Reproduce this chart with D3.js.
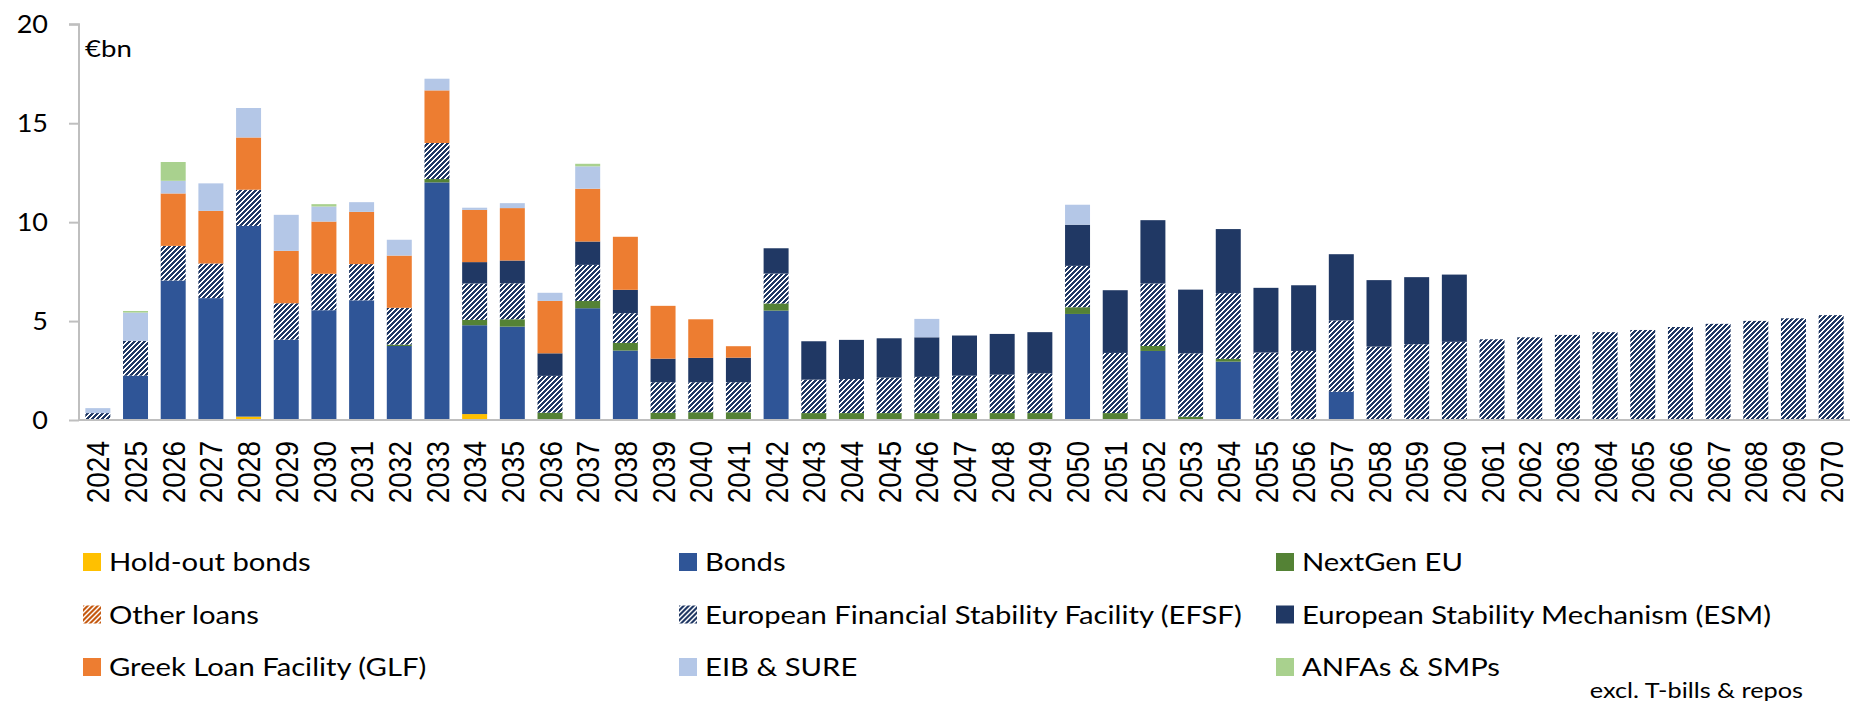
<!DOCTYPE html>
<html>
<head>
<meta charset="utf-8">
<script src="https://cdn.jsdelivr.net/npm/d3@7"></script>
<style>
  body { margin: 0; background: #fff; }
  svg text { fill: #000; }
</style>
</head>
<body>
<div class="chart"></div>
<script>
// categories (years)
const years = ['2024', '2025', '2026', '2027', '2028', '2029', '2030', '2031', '2032', '2033',
  '2034', '2035', '2036', '2037', '2038', '2039', '2040', '2041', '2042', '2043',
  '2044', '2045', '2046', '2047', '2048', '2049', '2050', '2051', '2052', '2053',
  '2054', '2055', '2056', '2057', '2058', '2059', '2060', '2061', '2062', '2063',
  '2064', '2065', '2066', '2067', '2068', '2069', '2070'];

const yTicks = [0, 5, 10, 15, 20];

// series values, €bn, one per year
const holdout = [0, 0, 0, 0, 0.17, 0, 0, 0, 0, 0,
  0.30, 0, 0, 0, 0, 0, 0, 0, 0, 0,
  0, 0, 0, 0, 0, 0, 0, 0, 0, 0,
  0, 0, 0, 0, 0, 0, 0, 0, 0, 0,
  0, 0, 0, 0, 0, 0, 0];
const bonds = [0, 2.24, 7.05, 6.16, 9.64, 4.06, 5.55, 6.05, 3.74, 12.01,
  4.49, 4.72, 0, 5.65, 3.51, 0, 0, 0, 5.53, 0,
  0, 0, 0, 0, 0, 0, 5.36, 0, 3.49, 0,
  2.95, 0, 0, 1.43, 0, 0, 0, 0, 0, 0,
  0, 0, 0, 0, 0, 0, 0];
const nextGen = [0, 0, 0, 0, 0, 0, 0, 0, 0.07, 0.17,
  0.27, 0.37, 0.37, 0.37, 0.39, 0.37, 0.39, 0.39, 0.36, 0.35,
  0.35, 0.35, 0.35, 0.35, 0.35, 0.35, 0.34, 0.35, 0.25, 0.17,
  0.14, 0, 0, 0, 0, 0, 0, 0, 0, 0,
  0, 0, 0, 0, 0, 0, 0];
const otherLoans = [0, 0, 0, 0, 0, 0, 0, 0, 0, 0,
  0, 0, 0, 0, 0, 0, 0, 0, 0, 0,
  0, 0, 0, 0, 0, 0, 0, 0, 0, 0,
  0, 0, 0, 0, 0, 0, 0, 0, 0, 0,
  0, 0, 0, 0, 0, 0, 0];
const efsf = [0.35, 1.76, 1.75, 1.75, 1.83, 1.84, 1.84, 1.83, 1.86, 1.82,
  1.84, 1.82, 1.86, 1.82, 1.50, 1.54, 1.52, 1.52, 1.51, 1.69,
  1.72, 1.79, 1.83, 1.89, 1.94, 2.01, 2.09, 3.04, 3.16, 3.20,
  3.32, 3.41, 3.49, 3.60, 3.71, 3.83, 3.95, 4.08, 4.18, 4.30,
  4.44, 4.55, 4.70, 4.86, 5.01, 5.14, 5.30];
const esm = [0, 0, 0, 0, 0, 0, 0, 0, 0, 0,
  1.08, 1.15, 1.14, 1.18, 1.18, 1.19, 1.23, 1.24, 1.28, 1.94,
  1.98, 1.99, 2.00, 2.03, 2.06, 2.08, 2.08, 3.17, 3.20, 3.22,
  3.24, 3.27, 3.32, 3.35, 3.36, 3.39, 3.40, 0, 0, 0,
  0, 0, 0, 0, 0, 0, 0];
const glf = [0, 0, 2.65, 2.66, 2.64, 2.65, 2.64, 2.64, 2.64, 2.66,
  2.64, 2.65, 2.65, 2.67, 2.68, 2.67, 1.95, 0.58, 0, 0,
  0, 0, 0, 0, 0, 0, 0, 0, 0, 0,
  0, 0, 0, 0, 0, 0, 0, 0, 0, 0,
  0, 0, 0, 0, 0, 0, 0];
const eibSure = [0.25, 1.43, 0.64, 1.39, 1.49, 1.82, 0.76, 0.49, 0.80, 0.59,
  0.11, 0.25, 0.41, 1.13, 0, 0, 0, 0, 0, 0,
  0, 0, 0.93, 0, 0, 0, 1.01, 0, 0, 0,
  0, 0, 0, 0, 0, 0, 0, 0, 0, 0,
  0, 0, 0, 0, 0, 0, 0];
const anfas = [0, 0.08, 0.95, 0, 0, 0, 0.12, 0, 0, 0,
  0, 0, 0, 0.13, 0, 0, 0, 0, 0, 0,
  0, 0, 0, 0, 0, 0, 0, 0, 0, 0,
  0, 0, 0, 0, 0, 0, 0, 0, 0, 0,
  0, 0, 0, 0, 0, 0, 0];

// stack order = legend order
const seriesNames = ['Hold-out bonds', 'Bonds', 'NextGen EU',
  'Other loans', 'European Financial Stability Facility (EFSF)', 'European Stability Mechanism (ESM)',
  'Greek Loan Facility (GLF)', 'EIB & SURE', 'ANFAs & SMPs'];
const seriesValues = [holdout, bonds, nextGen, otherLoans, efsf, esm, glf, eibSure, anfas];
const seriesFill = ['#FFC000', '#2F5597', '#548235', 'url(#hatchOrange)', 'url(#hatchNavy)',
  '#203864', '#ED7D31', '#B4C7E7', '#A9D18E'];

const width = 1860;
const height = 701;
const margin = { top: 24.3, right: 10, bottom: 281, left: 79 };
const txtFont = 'Lato, sans-serif';

const rows = years.map((yr, i) => {
  const row = { year: yr };
  seriesNames.forEach((name, j) => { row[name] = seriesValues[j][i]; });
  return row;
});

const svg = d3.select('.chart').append('svg')
    .attr('width', width)
    .attr('height', height);

// hatch patterns (upward diagonal, pixel stepped like the office fill)
const defs = svg.append('defs');
function hatch(id, colour) {
  const s = 5;
  const p = defs.append('pattern')
      .attr('id', id)
      .attr('patternUnits', 'userSpaceOnUse')
      .attr('width', s)
      .attr('height', s);
  p.append('rect').attr('width', s).attr('height', s).attr('fill', '#fff');
  for (let r = 0; r < s; r++) {
    for (let k = 0; k < 3; k++) {
      p.append('rect')
          .attr('x', (s - 1 - r + k) % s)
          .attr('y', r)
          .attr('width', 1)
          .attr('height', 1)
          .attr('fill', colour)
          .attr('shape-rendering', 'crispEdges');
    }
  }
}
hatch('hatchNavy', '#203864');
hatch('hatchOrange', '#C55A11');

const x = d3.scaleBand()
    .domain(years)
    .range([margin.left, 1850])
    .paddingInner(0.337)
    .paddingOuter(0.1685);

const y = d3.scaleLinear()
    .domain([0, 20])
    .range([420, margin.top]);

const stacked = d3.stack().keys(seriesNames)(rows);

svg.append('g')
  .selectAll('g')
  .data(stacked)
  .enter().append('g')
    .attr('fill', (d, i) => seriesFill[i])
  .selectAll('rect')
  .data(d => d.filter(s => s[1] - s[0] > 0))
  .enter().append('rect')
    .attr('x', d => x(d.data.year))
    .attr('width', x.bandwidth())
    .attr('y', d => y(d[1]))
    .attr('height', d => y(d[0]) - y(d[1]));

// y axis
const yAxis = svg.append('g')
    .attr('transform', `translate(${margin.left}, 0)`)
    .call(d3.axisLeft(y).tickValues(yTicks).tickSize(10).tickPadding(0));
yAxis.select('.domain').attr('stroke', '#bfbfbf').attr('stroke-width', 2)
    .attr('d', `M-10,${y(20)}H0V${y(0)}`);
yAxis.selectAll('.tick line').attr('stroke', '#bfbfbf').attr('stroke-width', 2);
yAxis.selectAll('.tick text')
    .style('font-family', txtFont)
    .style('font-size', '25px')
    .attr('fill', '#000')
    .attr('x', 0)
    .attr('transform', 'translate(-31, 0) scale(1.08, 1)');

// x axis (baseline only) with rotated year labels
const xAxis = svg.append('g')
    .attr('transform', `translate(0, ${y(0)})`)
    .call(d3.axisBottom(x).tickSize(0).tickPadding(0));
xAxis.select('.domain').attr('stroke', '#bfbfbf').attr('stroke-width', 2)
    .attr('d', `M${margin.left},0H1850`);
xAxis.selectAll('.tick text')
    .style('font-family', '"Liberation Sans", Arial, sans-serif')
    .style('font-size', '28px')
    .attr('fill', '#000')
    .attr('text-anchor', 'end')
    .attr('y', 0)
    .attr('dy', '0.36em')
    .attr('transform', 'translate(0, 21) rotate(-90) scale(1, 1.15)');

// unit label
svg.append('text')
    .attr('transform', 'translate(85, 56.5) scale(1.15, 1)')
    .style('font-family', txtFont)
    .style('font-size', '24px')
    .text('€bn');

// legend, 3 x 3
const legendCols = [83, 679, 1276];
const legendRows = [562, 614.5, 667];
const legend = svg.append('g')
  .selectAll('g')
  .data(seriesNames)
  .enter().append('g')
    .attr('transform', (d, i) => `translate(${legendCols[i % 3]}, ${legendRows[Math.floor(i / 3)]})`);

legend.append('rect')
    .attr('x', 0)
    .attr('y', -9)
    .attr('width', 18)
    .attr('height', 18)
    .attr('fill', (d, i) => seriesFill[i]);

legend.append('text')
    .attr('transform', 'translate(26, 9) scale(1.17, 1)')
    .style('font-family', txtFont)
    .style('font-size', '25px')
    .text(d => d);

svg.append('text')
    .attr('transform', 'translate(1803, 697.5) scale(1.15, 1)')
    .attr('text-anchor', 'end')
    .style('font-family', txtFont)
    .style('font-size', '22px')
    .text('excl. T-bills & repos');
</script>
</body>
</html>
